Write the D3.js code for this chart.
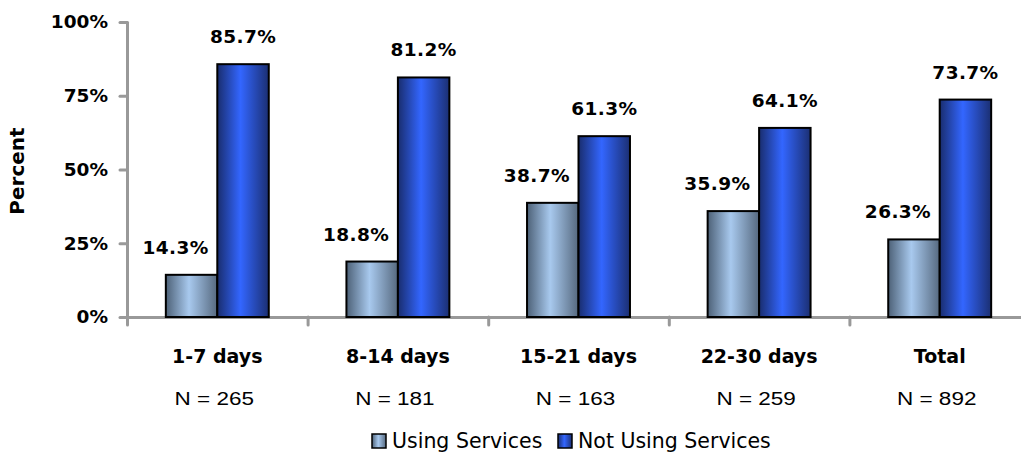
<!DOCTYPE html>
<html>
<head>
<meta charset="utf-8">
<script src="https://cdn.jsdelivr.net/npm/d3@7"></script>
<style>
  html, body { margin: 0; padding: 0; background: #fff; }
  svg { display: block; }
  .bold { font-family: "DejaVu Sans", Verdana, sans-serif; font-weight: bold; fill: #000; }
  .axis path, .axis line { stroke: #999; stroke-width: 3; stroke-linecap: round; fill: none; }
</style>
</head>
<body>
<svg id="chart" width="1021" height="456"></svg>
<script>
// Length of stay groups, sample sizes and service-use percentages
const categories = ["1-7 days", "8-14 days", "15-21 days", "22-30 days", "Total"];
const sampleSizes = [265, 181, 163, 259, 892];
const seriesNames = ["Using Services", "Not Using Services"];
const usingServices = [14.3, 18.8, 38.7, 35.9, 26.3];
const notUsingServices = [85.7, 81.2, 61.3, 64.1, 73.7];
const yTicks = [0, 25, 50, 75, 100];

const seriesValues = [usingServices, notUsingServices];

const svg = d3.select("#chart");
const plotLeft = 127, plotRight = 1030, plotTop = 22, plotBottom = 317;

// Gradients that give the bars their cylinder-like shading
const defs = svg.append("defs");
const gradStops = [
  ["#4d6177", "#a8c9ee", "#56697f"],
  ["#192d6e", "#3366ff", "#1b2f72"]
];
gradStops.forEach((c, i) => {
  const g = defs.append("linearGradient").attr("id", "grad" + i)
    .attr("x1", "0%").attr("x2", "100%").attr("y1", "0%").attr("y2", "0%");
  g.append("stop").attr("offset", "0%").attr("stop-color", c[0]);
  g.append("stop").attr("offset", "45%").attr("stop-color", c[1]);
  g.append("stop").attr("offset", "100%").attr("stop-color", c[2]);
});

const x = d3.scaleBand().domain(categories).range([plotLeft, plotRight]).padding(0);
const inner = d3.scaleBand().domain(seriesNames)
  .range([-x.bandwidth() * 0.285, x.bandwidth() * 0.285]).padding(0);
const y = d3.scaleLinear().domain([0, 100]).range([plotBottom, plotTop]);
const xEdges = d3.scaleLinear().domain([0, categories.length]).range([plotLeft, plotRight]);

// Y axis
const yAxis = svg.append("g").attr("class", "axis")
  .attr("transform", `translate(${plotLeft},0)`)
  .call(d3.axisLeft(y).tickValues(yTicks).tickSize(7).tickSizeOuter(0).tickPadding(12)
    .tickFormat(d => d + "%"));
yAxis.selectAll("text").attr("class", "bold").style("font-size", "18.5px");

// X axis with ticks at category boundaries
svg.append("g").attr("class", "axis")
  .attr("transform", `translate(0,${plotBottom})`)
  .call(d3.axisBottom(xEdges).tickValues(d3.range(categories.length + 1)).tickSize(8)
    .tickSizeOuter(0).tickFormat(""));

// Bars
const groups = svg.append("g").selectAll("g").data(categories).join("g")
  .attr("transform", d => `translate(${x(d) + x.bandwidth() / 2},0)`);

seriesNames.forEach((s, si) => {
  groups.append("rect")
    .attr("x", inner(s))
    .attr("width", inner.bandwidth())
    .attr("y", (d, i) => y(seriesValues[si][i]))
    .attr("height", (d, i) => plotBottom - y(seriesValues[si][i]))
    .attr("fill", `url(#grad${si})`)
    .attr("stroke", "#000")
    .attr("stroke-width", 2);
});

// Value labels above the bars
const labelShift = [-16, 0];
seriesNames.forEach((s, si) => {
  groups.append("text")
    .attr("class", "bold")
    .attr("text-anchor", "middle")
    .style("font-size", "18.5px")
    .style("letter-spacing", "0.4px")
    .attr("x", inner(s) + inner.bandwidth() / 2 + labelShift[si])
    .attr("y", (d, i) => y(seriesValues[si][i]) - 21)
    .text((d, i) => seriesValues[si][i].toFixed(1) + "%");
});

// Category names and sample sizes
groups.append("text")
  .attr("class", "bold")
  .attr("text-anchor", "middle")
  .style("font-size", "19px")
  .attr("y", 363)
  .text(d => d);

groups.append("text")
  .attr("text-anchor", "middle")
  .attr("transform", "translate(-3,405) scale(1.25,1)")
  .style("font-family", "'Liberation Sans', Arial, sans-serif")
  .style("font-size", "18px")
  .attr("fill", "#000")
  .text((d, i) => "N = " + sampleSizes[i]);

// Y axis title
svg.append("text")
  .attr("class", "bold")
  .attr("text-anchor", "middle")
  .attr("transform", "translate(24,171) rotate(-90)")
  .style("font-size", "20px")
  .text("Percent");

// Legend
const legend = svg.append("g").attr("transform", "translate(372,448)");
const legendX = [0, 186];
seriesNames.forEach((s, si) => {
  const g = legend.append("g").attr("transform", `translate(${legendX[si]},0)`);
  g.append("rect").attr("x", 0).attr("y", -14).attr("width", 14).attr("height", 14)
    .attr("fill", `url(#grad${si})`).attr("stroke", "#000").attr("stroke-width", 1.5);
  g.append("text").attr("x", 20).attr("y", 0)
    .style("font-family", "'DejaVu Sans', Verdana, sans-serif")
    .style("font-size", "20.5px")
    .attr("fill", "#000")
    .text(s);
});
</script>
</body>
</html>
